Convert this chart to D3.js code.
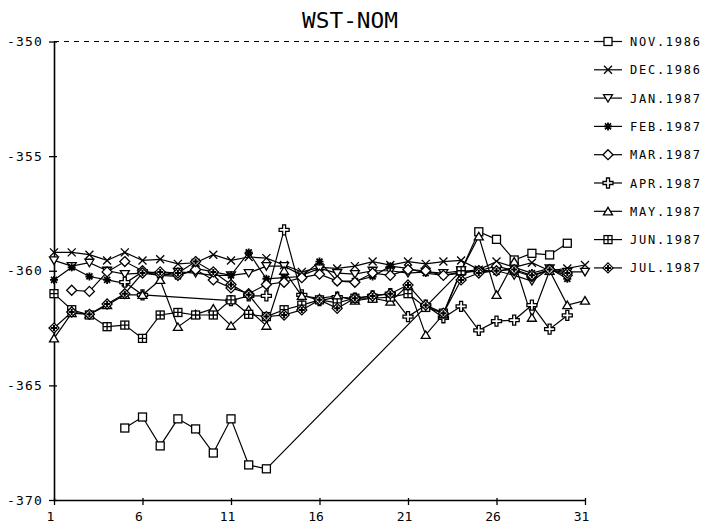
<!DOCTYPE html>
<html>
<head>
<meta charset="utf-8">
<script src="https://cdn.jsdelivr.net/npm/d3@7"></script>
<style>
  body { margin: 0; background: #fff; }
  svg { display: block; }
  text { font-family: "DejaVu Sans Mono", monospace; fill: #000; }
</style>
</head>
<body>
<div id="chart"></div>
<script>
// day of month on the x axis
const days = d3.range(1, 32);
const xTicks = [1, 6, 11, 16, 21, 26, 31];
const yTicks = [-350, -355, -360, -365, -370];

const seriesNames = ["NOV.1986", "DEC.1986", "JAN.1987", "FEB.1987", "MAR.1987",
  "APR.1987", "MAY.1987", "JUN.1987", "JUL.1987"];

const n = null;
const nov86 = [n, n, n, n, -366.86, -366.38, -367.64, -366.46, -366.9, -367.95, -366.46, -368.47, -368.64,
  n, n, n, n, n, n, n, n, n, n, -360.0, -358.3, -358.63, -359.53, -359.24, -359.31, -358.8, n];
const dec86 = [-359.2, -359.2, -359.3, -359.55, -359.2, -359.55, -359.5, -359.7, -359.65, -359.3, -359.55,
  -359.4, -359.45, -359.75, -360.05, -359.85, -359.9, -359.8, -359.6, -359.75, -359.6, -359.7, -359.6,
  -359.55, -359.95, -359.6, -359.85, -359.65, -360.0, -359.9, -359.75];
const jan87 = [-359.55, -359.8, -359.65, -360.0, -360.15, -360.1, -360.2, -360.05, -360.1, -360.2, -360.2,
  -360.1, -359.8, -359.8, -360.2, -359.9, -360.1, -360.15, -360.0, -360.0, -360.1, -360.05, -360.1,
  -360.0, -360.05, -360.0, -360.2, -360.45, -359.9, -360.05, -360.05];
const feb87 = [-360.4, -359.85, -360.25, -360.4, -360.55, -360.05, -360.2, -360.25, -359.9, -360.05, -360.2,
  -359.2, -360.35, -360.3, -360.25, -359.6, -360.45, -360.45, -360.25, -359.8, -359.9, -360.1, -360.2,
  -360.05, -359.95, -360.05, -359.85, -360.1, -359.9, -360.35, n];
const mar87 = [n, -360.85, -360.9, -360.05, -359.6, -360.0, -360.15, -360.2, -359.95, -360.4, -360.75,
  -361.0, -360.6, -360.5, -360.3, -360.15, -360.45, -360.5, -360.1, -360.2, -359.95, -360.0, -360.2,
  -360.1, -360.0, -359.8, -360.0, -360.25, -359.95, -360.2, n];
const apr87 = [n, n, n, n, -360.5, -361.05, n, n, n, n, -361.3, -361.1, -361.1, -358.22, -361.05, -361.3,
  -361.15, -361.2, -361.1, -361.0, -362.0, -361.5, -362.05, -361.55, -362.6, -362.2, -362.15, -361.5,
  -362.55, -361.95, n];
const may87 = [-362.95, -361.85, -361.9, -361.5, -361.05, -361.05, -360.4, -362.45, -361.9, -361.65, -362.4,
  -361.7, -362.4, -360.0, -361.1, -361.2, -361.1, -361.3, -361.2, -361.35, -360.65, -362.8, -361.9,
  -360.0, -358.5, -361.05, -359.6, -362.05, -360.0, -361.5, -361.3];
const jun87 = [-361.0, -361.7, -361.93, -362.44, -362.37, -362.95, -361.93, -361.82, -361.93, -361.93, -361.27,
  -361.9, -362.0, -361.7, -361.5, -361.27, -361.4, -361.2, -361.2, -361.15, -361.0, -361.6, -361.85,
  -360.0, n, n, n, n, n, n, n];
const jul87 = [-362.5, -361.8, -361.9, -361.45, -361.0, -360.1, -360.05, -360.1, -359.6, -360.05, -360.6,
  -361.05, -362.0, -361.93, -361.71, -361.27, -361.64, -361.2, -361.1, -361.0, -360.62, -361.5, -361.85,
  -360.4, -360.1, -360.0, -359.95, -360.2, -359.95, -360.1, n];

const allValues = [nov86, dec86, jan87, feb87, mar87, apr87, may87, jun87, jul87];
const symbols = ["square", "x", "tridown", "star", "diamond", "cross", "triup", "squareplus", "diamondplus"];

const W = 706, H = 524;
const svg = d3.select("#chart").append("svg").attr("width", W).attr("height", H);

const x = d3.scaleLinear().domain([1, 31]).range([54, 585]);
const y = d3.scaleLinear().domain([-370, -350]).range([500, 41.5]);

// title
svg.append("text")
  .attr("x", 350).attr("y", 28)
  .attr("text-anchor", "middle")
  .attr("font-size", 22)
  .attr("textLength", 96)
  .attr("lengthAdjust", "spacingAndGlyphs")
  .text("WST-NOM");

// dashed frame line at top
svg.append("line")
  .attr("x1", x(1)).attr("x2", 590)
  .attr("y1", y(-350)).attr("y2", y(-350))
  .attr("stroke", "#000").attr("stroke-width", 1)
  .attr("stroke-dasharray", "5,5");

// axes
const yAxis = svg.append("g")
  .attr("transform", `translate(${x(1)},0)`)
  .call(d3.axisLeft(y).tickValues(yTicks).tickSize(5).tickSizeOuter(0).tickPadding(6)
    .tickFormat(d => String(d)));
yAxis.selectAll(".tick line").attr("x1", 3);
yAxis.selectAll(".tick text").attr("font-size", 13).attr("letter-spacing", 1.2)
  .attr("font-family", "DejaVu Sans Mono");

const xAxis = svg.append("g")
  .attr("transform", `translate(0,${y(-370)})`)
  .call(d3.axisBottom(x).tickValues(xTicks).tickSize(5).tickSizeOuter(0).tickPadding(7));
xAxis.selectAll(".tick line").attr("y1", -2);
xAxis.selectAll(".tick text").attr("font-size", 13).attr("dx", -4)
  .attr("font-family", "DejaVu Sans Mono");

svg.selectAll(".domain").attr("stroke-width", 1.6);
svg.selectAll(".tick line").attr("stroke-width", 1.3);

// marker shapes
function drawSymbol(g, type) {
  const s = 4;
  const st = { stroke: "#000", "stroke-width": 1.3, fill: "#fff" };
  const add = (tag, attrs) => {
    const el = g.append(tag);
    Object.entries(Object.assign({}, st, attrs)).forEach(([k, v]) => el.attr(k, v));
    return el;
  };
  switch (type) {
    case "square":
      add("rect", { x: -s, y: -s, width: 2 * s, height: 2 * s });
      break;
    case "squareplus":
      add("rect", { x: -s, y: -s, width: 2 * s, height: 2 * s });
      add("path", { d: `M${-s},0H${s}M0,${-s}V${s}`, fill: "none" });
      break;
    case "x":
      add("path", { d: `M${-s},${-s}L${s},${s}M${-s},${s}L${s},${-s}`, fill: "none" });
      break;
    case "tridown":
      add("path", { d: `M${-s - 0.5},${-s + 0.5}L${s + 0.5},${-s + 0.5}L0,${s}Z` });
      break;
    case "triup":
      add("path", { d: `M${-s - 0.5},${s - 0.5}L${s + 0.5},${s - 0.5}L0,${-s}Z` });
      break;
    case "star":
      add("path", { d: `M${-s},0H${s}M0,${-s}V${s}M-3,-3L3,3M-3,3L3,-3`, fill: "none", "stroke-width": 1.8 });
      break;
    case "diamond":
      add("path", { d: `M0,${-s - 1}L${s + 1},0L0,${s + 1}L${-s - 1},0Z` });
      break;
    case "diamondplus":
      add("path", { d: `M0,${-s - 1}L${s + 1},0L0,${s + 1}L${-s - 1},0Z` });
      add("path", { d: `M-3,0H3M0,-3V3`, fill: "none", "stroke-width": 2 });
      break;
    case "cross":
      add("path", { d: "M-1.5,-5H1.5V-1.5H5V1.5H1.5V5H-1.5V1.5H-5V-1.5H-1.5Z" });
      break;
  }
}

const line = d3.line().x(p => x(p.d)).y(p => y(p.v));

const plot = svg.append("g");
allValues.forEach((vals, si) => {
  const pts = days.map((d, i) => ({ d: d, v: vals[i] })).filter(p => p.v != null);
  plot.append("path")
    .attr("d", line(pts))
    .attr("fill", "none")
    .attr("stroke", "#000")
    .attr("stroke-width", 1.2);
});
allValues.forEach((vals, si) => {
  const pts = days.map((d, i) => ({ d: d, v: vals[i] })).filter(p => p.v != null);
  pts.forEach(p => {
    const g = plot.append("g").attr("transform", `translate(${x(p.d)},${y(p.v)})`);
    drawSymbol(g, symbols[si]);
  });
});

// legend
const legend = svg.append("g");
seriesNames.forEach((name, i) => {
  const ly = 41.5 + i * 28.3;
  legend.append("line")
    .attr("x1", 594).attr("x2", 622).attr("y1", ly).attr("y2", ly)
    .attr("stroke", "#000").attr("stroke-width", 1.2);
  const g = legend.append("g").attr("transform", `translate(608,${ly})`);
  drawSymbol(g, symbols[i]);
  legend.append("text")
    .attr("x", 630).attr("y", ly + 4.5)
    .attr("font-size", 12)
    .attr("textLength", 70)
    .attr("lengthAdjust", "spacing")
    .text(name);
});
</script>
</body>
</html>
